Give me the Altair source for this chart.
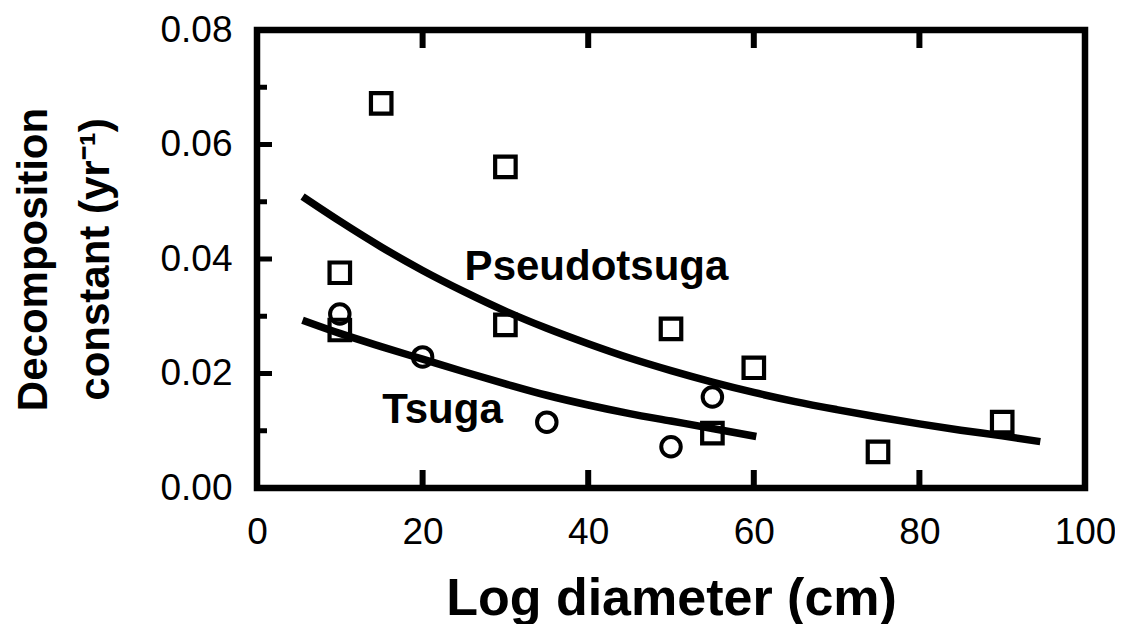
import altair as alt
import pandas as pd

# ---- data ----
pseudo_x = [15, 30, 10, 10, 30, 50, 60, 55, 75, 90]
pseudo_y = [0.0672, 0.0561, 0.0376, 0.0276, 0.0285, 0.0278, 0.0210, 0.0096, 0.0063, 0.0115]

tsuga_x = [10, 20, 35, 50, 55]
tsuga_y = [0.0304, 0.0229, 0.0115, 0.0072, 0.0159]

pseudo_fit_x = [5.5, 10, 15, 20, 25, 30, 35, 40, 45, 50, 55, 60, 65, 70, 75, 80, 85, 90, 94.6]
pseudo_fit_y = [0.0509, 0.0466, 0.0421, 0.0380, 0.0343, 0.0309, 0.0279, 0.0252, 0.0227, 0.0205,
                0.0185, 0.0167, 0.0151, 0.0137, 0.0124, 0.0112, 0.0101, 0.0091, 0.0081]

tsuga_fit_x = [5.5, 10, 15, 20, 25, 30, 35, 40, 45, 50, 55, 60.3]
tsuga_fit_y = [0.0293, 0.0270, 0.0247, 0.0225, 0.0203, 0.0182, 0.0162, 0.0145, 0.0130, 0.0117,
               0.0104, 0.0090]

label_text = ["Pseudotsuga", "Tsuga"]
label_x = [41.0, 22.4]
label_y = [0.0363, 0.0113]

x_tick_values = [0, 20, 40, 60, 80, 100]
y_tick_values = [0.00, 0.02, 0.04, 0.06, 0.08]
x_inner_ticks = [20, 40, 60, 80]
y_major_inner = [0.02, 0.04, 0.06]
y_minor_inner = [0.01, 0.03, 0.05, 0.07]

FONT = "Liberation Sans, Arial, sans-serif"
W, H = 828, 458

xscale = alt.Scale(domain=[0, 100], nice=False, zero=False)
yscale = alt.Scale(domain=[0, 0.08], nice=False, zero=False)

x_axis = alt.Axis(
    values=x_tick_values, format="d", ticks=False, domain=False, grid=False,
    labelFont=FONT, labelFontSize=37, labelColor="black", labelPadding=26,
    labelFlush=False, labelOverlap=False,
    title="Log diameter (cm)", titleFont=FONT, titleFontSize=52, titleFontWeight="bold",
    titleColor="black", titleX=414, titleY=126, titleAnchor="middle", titleAlign="center",
    titleBaseline="alphabetic",
)
y_axis = alt.Axis(
    values=y_tick_values, format=".2f", ticks=False, domain=False, grid=False,
    labelFont=FONT, labelFontSize=37, labelColor="black", labelPadding=25,
    labelFlush=False, labelOverlap=False,
    title=["Decomposition", "constant (yr\u207b\u00b9)"], titleFont=FONT, titleFontSize=42,
    titleFontWeight="bold", titleColor="black", titleAngle=-90, titleX=-211, titleY=229,
    titleAlign="center", titleBaseline="alphabetic", titleLineHeight=62,
)


def X():
    return alt.X("x:Q", scale=xscale, axis=x_axis)


def Y():
    return alt.Y("y:Q", scale=yscale, axis=y_axis)


sq_df = pd.DataFrame({"x": pseudo_x, "y": pseudo_y})
ci_df = pd.DataFrame({"x": tsuga_x, "y": tsuga_y})
pf_df = pd.DataFrame({"x": pseudo_fit_x, "y": pseudo_fit_y})
tf_df = pd.DataFrame({"x": tsuga_fit_x, "y": tsuga_fit_y})
lab_df = pd.DataFrame({"x": label_x, "y": label_y, "t": label_text})

squares = alt.Chart(sq_df).mark_point(
    shape="square", filled=False, stroke="black", strokeWidth=4.2, size=420, opacity=1
).encode(x=X(), y=Y())

circles = alt.Chart(ci_df).mark_point(
    shape="circle", filled=False, stroke="black", strokeWidth=4.0, size=380, opacity=1
).encode(x=X(), y=Y())

pline = alt.Chart(pf_df).mark_line(
    color="black", strokeWidth=7.5, strokeCap="butt", interpolate="monotone"
).encode(x=X(), y=Y())

tline = alt.Chart(tf_df).mark_line(
    color="black", strokeWidth=7.5, strokeCap="butt", interpolate="monotone"
).encode(x=X(), y=Y())

labels = alt.Chart(lab_df).mark_text(
    font=FONT, fontSize=42, fontWeight="bold", color="black", align="center",
    baseline="alphabetic"
).encode(x=X(), y=Y(), text="t:N")

bottom_ticks = alt.Chart(pd.DataFrame({"x": x_inner_ticks})).mark_rule(
    color="black", strokeWidth=6
).encode(x=X(), y=alt.value(H), y2=alt.value(H - 18))

top_ticks = alt.Chart(pd.DataFrame({"x": x_inner_ticks})).mark_rule(
    color="black", strokeWidth=6
).encode(x=X(), y=alt.value(0), y2=alt.value(18))

left_major = alt.Chart(pd.DataFrame({"y": y_major_inner})).mark_rule(
    color="black", strokeWidth=5
).encode(y=Y(), x=alt.value(0), x2=alt.value(15))

left_minor = alt.Chart(pd.DataFrame({"y": y_minor_inner})).mark_rule(
    color="black", strokeWidth=5
).encode(y=Y(), x=alt.value(0), x2=alt.value(10))

chart = alt.layer(
    squares, circles, pline, tline, labels, bottom_ticks, top_ticks, left_major, left_minor
).properties(
    width=W, height=H,
    autosize=alt.AutoSizeParams(type="none"),
    padding={"left": 249, "top": 22, "right": 30, "bottom": 136},
    background="white",
).configure_view(
    stroke="black", strokeWidth=6.5, fill="white"
)

chart.save("out.html", embed_options={"renderer": "svg", "actions": False})
